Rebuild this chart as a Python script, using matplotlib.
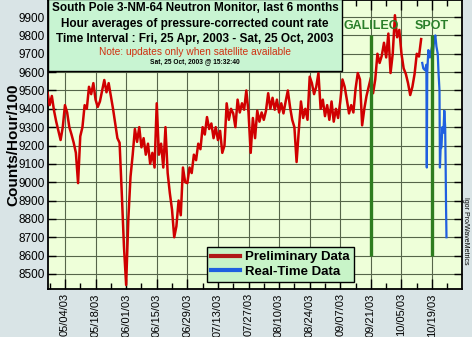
import matplotlib
matplotlib.use("Agg")
import matplotlib.pyplot as plt
import matplotlib.dates as mdates
from matplotlib.patches import Rectangle
from matplotlib.lines import Line2D
import pandas as pd

plt.rcParams['font.family'] = ['Liberation Sans', 'DejaVu Sans']

# preliminary data, one reading per day starting 25 Apr 2003
red_start = "2003-04-25"
red_counts = [
    9450, 9490, 9420, 9470, 9390, 9330, 9280, 9230, 9300, 9420,
    9380, 9300, 9260, 9215, 9160, 8995, 9250, 9300, 9420, 9400,
    9520, 9480, 9540, 9450, 9410, 9440, 9500, 9557, 9490, 9540,
    9470, 9400, 9320, 9240, 9215, 8940, 8650, 8440, 8800, 9030,
    9150, 9290, 9220, 9300, 9190, 9240, 9150, 9210, 9100, 9160,
    9080, 9430, 9150, 9210, 9080, 9300, 9050, 8940, 8850, 8700,
    8760, 8900, 8820, 9080, 9000, 8995, 9080, 9050, 9150, 9120,
    9210, 9180, 9300, 9260, 9355, 9290, 9320, 9240, 9300, 9230,
    9280, 9160, 9200, 9430, 9340, 9400, 9375, 9300, 9450, 9380,
    9430, 9395, 9500, 9380, 9160, 9350, 9240, 9390, 9330, 9380,
    9340, 9390, 9485, 9400, 9460, 9395, 9450, 9380, 9430, 9375,
    9440, 9500, 9410, 9340, 9300, 9110, 9280, 9440, 9350, 9400,
    9340, 9575, 9540, 9480, 9520, 9595, 9400, 9450, 9360, 9420,
    9340, 9440, 9330, 9400, 9350, 9440, 9560, 9520, 9450, 9375,
    9420, 9380, 9510, 9595, 9560, 9310, 9400, 9470, 9520, 9570,
    9485, 9560, 9700, 9650, 9690, 9760, 9680, 9810, 9595, 9700,
    9910, 9790, 9830, 9700, 9620, 9590, 9540, 9475, 9520, 9590,
    9700, 9685, 9780,
]

# real-time data, days after 25 Apr 2003
blue_days = [172.5, 173.0, 173.8, 174.4, 174.6, 174.8, 175.3, 176.0, 177.0,
             177.4, 178.0, 178.5, 179.0, 179.6, 179.9, 180.4, 180.6, 180.9,
             181.3, 181.7, 182.2, 182.6, 183.0, 183.2, 183.4, 183.6]
blue_counts = [9650, 9620, 9610, 9640, 9080, 9600, 9720, 9680, 9740,
               9700, 9780, 9800, 9740, 9700, 9610, 9500, 9080, 9180,
               9190, 9300, 9270, 9390, 9300, 9110, 8865, 8700]

event_names = ["GALILEO", "SPOT"]
event_dates = ["2003-09-21", "2003-10-19"]

tick_dates = ["2003-05-04", "2003-05-18", "2003-06-01", "2003-06-15",
              "2003-06-29", "2003-07-13", "2003-07-27", "2003-08-10",
              "2003-08-24", "2003-09-07", "2003-09-21", "2003-10-05",
              "2003-10-19"]
y_ticks = list(range(8500, 10000, 100))

W, H = 472, 337
fig = plt.figure(figsize=(W / 100, H / 100), dpi=100, facecolor='#d9e4e6')
ax = fig.add_axes([48 / W, (H - 289) / H, 414 / W, 289 / H])
ax.set_facecolor('#eeffd9')

t0 = pd.Timestamp(red_start)
red_t = pd.date_range(red_start, periods=len(red_counts), freq="D")
blue_t = t0 + pd.to_timedelta(blue_days, unit="D")

ax.plot(red_t, red_counts, color='#d00000', lw=1.8, zorder=3)
ax.plot(blue_t, blue_counts, color='#1f5fe0', lw=1.6, zorder=3)

ev_t = pd.to_datetime(event_dates)
ax.vlines(ev_t, 8600, 9800, color='#2e7d1f', lw=2.4, zorder=4)
for name, t in zip(event_names, ev_t):
    ax.text(t, 9852, name, color='#2a7f2a', fontsize=9, fontweight='bold',
            ha='center', va='center', zorder=5)

ax.set_xlim(t0 + pd.Timedelta(days=1.24), t0 + pd.Timedelta(days=190.7))
ax.set_ylim(8418, 9993)

ax.set_xticks(pd.to_datetime(tick_dates))
ax.xaxis.set_major_formatter(mdates.DateFormatter("%m/%d/%y"))
ax.xaxis.set_minor_locator(mdates.WeekdayLocator(byweekday=mdates.SU))
ax.set_yticks(y_ticks)
ax.tick_params(axis='x', which='major', direction='in', length=7, width=1,
               labelsize=8, rotation=90, top=True, pad=3)
ax.tick_params(axis='x', which='minor', direction='in', length=4, width=1, top=True)
ax.tick_params(axis='y', direction='in', length=6, width=1, labelsize=8.5,
               right=True, pad=2)
ax.grid(True, which='major', color='#56654a', lw=0.8)
for s in ax.spines.values():
    s.set_linewidth(1.3)
    s.set_color('black')

ax.set_ylabel("Counts/Hour/100", fontsize=11, fontweight='bold')
ax.yaxis.set_label_coords(-28 / 414, (289 - 145) / 289)

# title box
fig.add_artist(Rectangle((48 / W, 1 - 71 / H), 294 / W, 72 / H,
                         transform=fig.transFigure, facecolor='#c8f4d2',
                         edgecolor='black', lw=1, zorder=10))
cx = 195 / W
fig.text(cx, 1 - 8 / H, "South Pole 3-NM-64 Neutron Monitor, last 6 months",
         ha='center', va='center', fontsize=8.5, fontweight='bold', zorder=11)
fig.text(cx, 1 - 24 / H, "Hour averages of pressure-corrected count rate",
         ha='center', va='center', fontsize=8.5, fontweight='bold', zorder=11)
fig.text(cx, 1 - 39 / H, "Time Interval : Fri, 25 Apr, 2003 - Sat, 25 Oct, 2003",
         ha='center', va='center', fontsize=8.5, fontweight='bold', zorder=11)
fig.text(cx, 1 - 52 / H, "Note: updates only when satellite available",
         ha='center', va='center', fontsize=7.3, color='#d03010', zorder=11)
fig.text(cx, 1 - 62 / H, "Sat, 25 Oct, 2003 @ 15:32:40",
         ha='center', va='center', fontsize=4.8, fontweight='bold', zorder=11)

handles = [Line2D([], [], color='#b01818', lw=3),
           Line2D([], [], color='#1f5fe0', lw=3)]
leg = ax.legend(handles, ["Preliminary Data", "Real-Time Data"],
                loc='lower left', bbox_to_anchor=(207 / W, (H - 282) / H),
                bbox_transform=fig.transFigure, fancybox=False,
                facecolor='#c8f4c8', edgecolor='black', framealpha=1,
                prop={'weight': 'bold', 'size': 9.5}, handlelength=2.2,
                handletextpad=0.4, borderpad=0.3, labelspacing=0.2,
                borderaxespad=0)
leg.get_frame().set_linewidth(1)
leg.set_zorder(6)

fig.text(466 / W, 1 - 231 / H, "Igor Pro/WaveMetrics", rotation=-90,
         ha='center', va='center', fontsize=5)

fig.savefig("out.png", dpi=100, facecolor=fig.get_facecolor())
